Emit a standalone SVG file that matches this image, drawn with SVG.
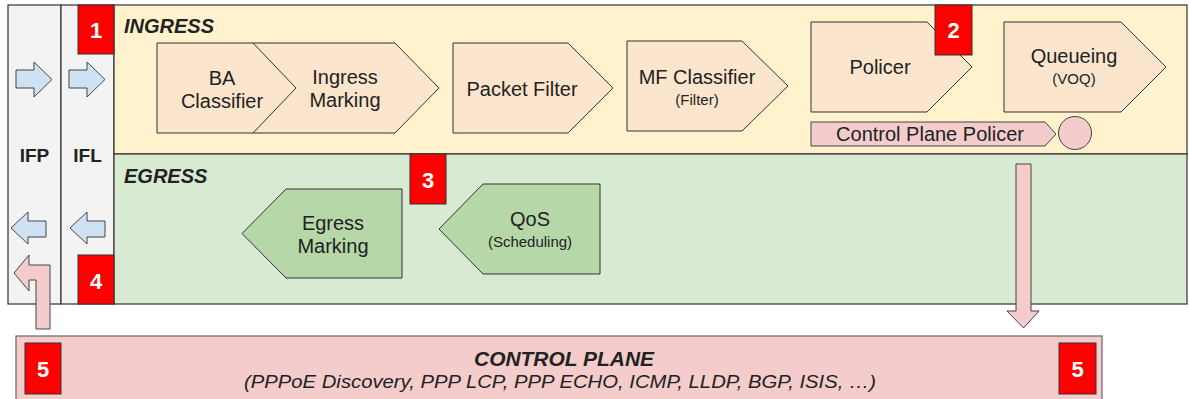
<svg xmlns="http://www.w3.org/2000/svg" width="1189" height="399" viewBox="0 0 1189 399">
<style>
text{font-family:"Liberation Sans",Arial,sans-serif;fill:#222}
.t{font-size:20px;text-anchor:middle}
.s{font-size:15px;text-anchor:middle}
.hdr{font-size:20px;font-weight:bold;font-style:italic}
.col{font-size:19px;font-weight:bold;text-anchor:middle}
.num{font-size:22px;font-weight:bold;fill:#fff;text-anchor:middle}
.pn{fill:#fce5cd;stroke:#333;stroke-width:1}
.gn{fill:#b6d7a8;stroke:#333;stroke-width:1}
.pk{fill:#f4cccc;stroke:#444;stroke-width:1}
.bl{fill:#cfe2f3;stroke:#444;stroke-width:1}
.red{fill:#ff0000;stroke:#333;stroke-width:1}
</style>
<rect width="1189" height="399" fill="#fff"/>
<g id="ifp"><rect x="8" y="5" width="53" height="299" fill="#f3f3f3" stroke="#333" stroke-width="1.2"/><text class="col" x="34.5" y="162">IFP</text></g>
<g id="ifl"><rect x="61" y="5" width="53" height="299" fill="#f3f3f3" stroke="#333" stroke-width="1.2"/><text class="col" x="87.5" y="162">IFL</text></g>
<g id="ingress"><rect x="114" y="5" width="1073" height="149" fill="#fff2cc" stroke="#333" stroke-width="1.2"/><text class="hdr" x="124" y="33">INGRESS</text></g>
<g id="egress"><rect x="114" y="154" width="1073" height="150" fill="#d9ead3" stroke="#333" stroke-width="1.2"/><text class="hdr" x="124" y="183">EGRESS</text></g>
<g id="control-plane"><rect x="16" y="336" width="1086" height="70" fill="#f4cccc" stroke="#666" stroke-width="1.2"/>
<text class="hdr" x="564" y="366" text-anchor="middle" textLength="180" lengthAdjust="spacingAndGlyphs">CONTROL PLANE</text>
<text x="560" y="388" font-size="19" font-style="italic" text-anchor="middle" textLength="632" lengthAdjust="spacingAndGlyphs">(PPPoE Discovery, PPP LCP, PPP ECHO, ICMP, LLDP, BGP, ISIS, …)</text></g>
<g id="ingress-marking"><path class="pn" d="M253,43H395L439,88L395,133H253Z"/><text class="t" x="345" y="84">Ingress</text><text class="t" x="345" y="107">Marking</text></g>
<g id="ba-classifier"><path class="pn" d="M157,43H253L296,88L253,133H157Z"/><text class="t" x="222" y="85">BA</text><text class="t" x="222" y="108">Classifier</text></g>
<g id="packet-filter"><path class="pn" d="M453,43H568L613,88L568,133H453Z"/><text class="t" x="522" y="96">Packet Filter</text></g>
<g id="mf-classifier"><path class="pn" d="M627,41H742L788,86L742,131H627Z"/><text class="t" x="697" y="84">MF Classifier</text><text class="s" x="697" y="105">(Filter)</text></g>
<g id="policer"><path class="pn" d="M811,22H927L972,67L927,112H811Z"/><text class="t" x="880" y="74">Policer</text></g>
<g id="queueing"><path class="pn" d="M1004,22H1121L1166,67L1121,112H1004Z"/><text class="t" x="1074" y="63">Queueing</text><text class="s" x="1074" y="84">(VOQ)</text></g>
<g id="cp-policer"><path class="pk" d="M811,122H1045L1056,134L1045,146H811Z"/><text class="t" x="930" y="141">Control Plane Policer</text></g>
<g id="cp-queue"><circle class="pk" cx="1075" cy="133" r="16.5"/></g>
<g id="egress-marking"><path class="gn" d="M402,189V278H286L242,233.5L286,189Z"/><text class="t" x="333" y="230">Egress</text><text class="t" x="333" y="253">Marking</text></g>
<g id="qos"><path class="gn" d="M600,184V274H483L439,229L483,184Z"/><text class="t" x="530" y="226">QoS</text><text class="s" x="530" y="247">(Scheduling)</text></g>
<g id="connectors">
<path class="bl" d="M16,70H34V62L52,79.5L34,97V88H16Z"/>
<path class="bl" d="M69,70H87V62L105,79.5L87,97V88H69Z"/>
<path class="bl" d="M46,221H28V212L11,228L28,244V237H46Z"/>
<path class="bl" d="M105,221H87V212L70,228L87,244V237H105Z"/>
<path class="pk" d="M50,329V265H29V255L14,273L29,291V280H36V329Z"/>
<path class="pk" d="M1016,164H1031V311H1039L1023.5,328L1007,311H1016Z"/>
</g>
<g id="badge-1"><rect class="red" x="78" y="5" width="36" height="49"/><text class="num" x="96" y="38">1</text></g>
<g id="badge-2"><rect class="red" x="935" y="5" width="37" height="50"/><text class="num" x="953.5" y="38">2</text></g>
<g id="badge-3"><rect class="red" x="410" y="154" width="36" height="50"/><text class="num" x="428" y="188">3</text></g>
<g id="badge-4"><rect class="red" x="78" y="255" width="36" height="49"/><text class="num" x="96" y="289">4</text></g>
<g id="badge-5a"><rect class="red" x="25" y="343" width="36" height="51"/><text class="num" x="43" y="377">5</text></g>
<g id="badge-5b"><rect class="red" x="1059" y="343" width="37" height="51"/><text class="num" x="1077.5" y="377">5</text></g>
</svg>
